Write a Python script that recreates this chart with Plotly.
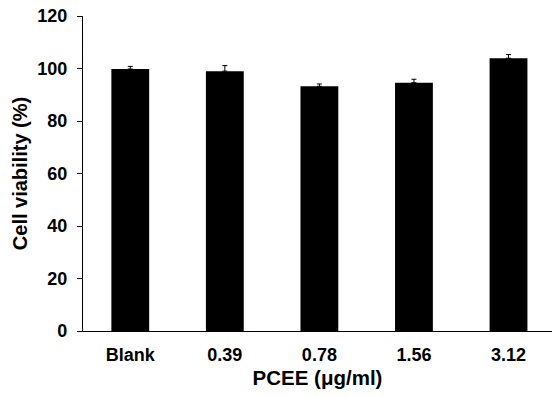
import plotly.graph_objects as go

categories = ["Blank", "0.39", "0.78", "1.56", "3.12"]
viability = [99.8, 99.0, 93.2, 94.6, 103.9]
errors = [1.0, 2.1, 0.9, 1.3, 1.4]
y_ticks = [0, 20, 40, 60, 80, 100, 120]

FONT = "Liberation Sans, Arial, sans-serif"

fig = go.Figure(go.Bar(
    x=categories, y=viability,
    marker=dict(color="black", line=dict(width=0)),
    width=0.4,
    error_y=dict(type="data", array=errors, arrayminus=[0]*len(errors), symmetric=False,
                 color="black", thickness=1, width=2.5),
))

fig.update_layout(
    width=552, height=397,
    margin=dict(l=83, r=0, t=16, b=66),
    plot_bgcolor="white", paper_bgcolor="white",
    showlegend=False,
    font=dict(family=FONT, color="black"),
    xaxis=dict(
        type="category", range=[-0.5, 4.46], automargin=False,
        showline=True, linecolor="black", linewidth=1.3,
        ticks="", showgrid=False, ticklabelstandoff=7,
        tickfont=dict(size=18, family=FONT, weight="bold"),
        title=dict(text="<b>PCEE (μg/ml)</b>", font=dict(size=20.5, family=FONT), standoff=6),
    ),
    yaxis=dict(
        range=[0, 120], tickvals=y_ticks, automargin=False,
        showline=True, linecolor="black", linewidth=1.3,
        ticks="outside", ticklen=5, tickwidth=1.3, tickcolor="black",
        showgrid=False, zeroline=False, ticklabelstandoff=6,
        tickfont=dict(size=18, family=FONT, weight="bold"),
        title=dict(text="<b>Cell viability (%)</b>", font=dict(size=20, family=FONT), standoff=4),
    ),
)

fig.write_html("out.html", config={"displayModeBar": False},
               post_script="document.body.style.margin='0';")
